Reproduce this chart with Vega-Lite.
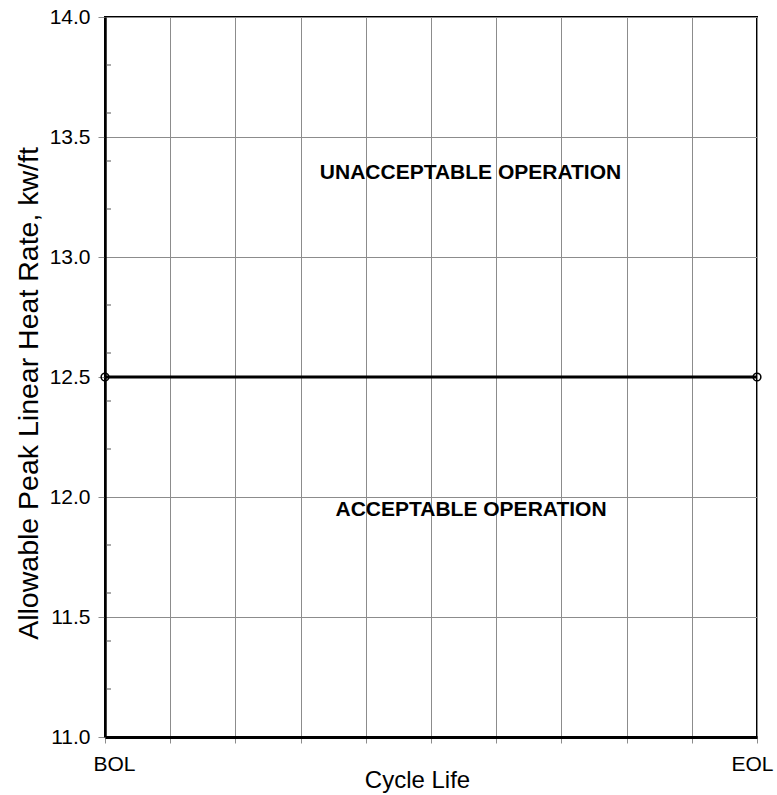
{
  "$schema": "https://vega.github.io/schema/vega-lite/v6.json",
  "width": 652,
  "height": 720,
  "autosize": "none",
  "padding": {"left": 105, "top": 17, "right": 20, "bottom": 58},
  "background": "white",
  "config": {
    "view": {"stroke": "black", "strokeWidth": 2},
    "font": "Liberation Sans",
    "axis": {
      "labelFont": "Liberation Sans",
      "titleFont": "Liberation Sans",
      "labelColor": "black",
      "titleColor": "black",
      "titleFontWeight": "normal",
      "gridColor": "#8c8c8c",
      "gridOpacity": 1,
      "gridWidth": 1,
      "tickColor": "#8c8c8c",
      "tickWidth": 1,
      "domainColor": "black"
    }
  },
  "layer": [
    {
      "data": {"values": [{"cycle": 0, "rate": 12.5}, {"cycle": 10, "rate": 12.5}]},
      "mark": {
        "type": "line",
        "color": "black",
        "strokeWidth": 3,
        "point": {"filled": false, "stroke": "black", "strokeWidth": 1.5, "size": 60}
      },
      "encoding": {
        "x": {
          "field": "cycle",
          "type": "quantitative",
          "scale": {"domain": [0, 10], "nice": false, "zero": false},
          "axis": {
            "values": [0, 1, 2, 3, 4, 5, 6, 7, 8, 9, 10],
            "labelExpr": "datum.value == 0 ? 'BOL' : (datum.value == 10 ? 'EOL' : '')",
            "labelFontSize": 21,
            "labelFlush": false,
            "labelOffset": {"expr": "datum.value == 0 ? 9 : -5"},
            "labelPadding": 10,
            "labelBaseline": "top",
            "tickSize": 6,
            "domainWidth": 3,
            "grid": true,
            "title": "Cycle Life",
            "titleFontSize": 24,
            "titleBaseline": "alphabetic",
            "titleX": 312,
            "titleY": 50
          }
        },
        "y": {
          "field": "rate",
          "type": "quantitative",
          "scale": {"domain": [11, 14], "nice": false, "zero": false},
          "axis": {
            "orient": "left",
            "values": [11, 11.5, 12, 12.5, 13, 13.5, 14],
            "format": ".1f",
            "labelFontSize": 21,
            "labelPadding": 8,
            "tickSize": 7,
            "domainWidth": 2.5,
            "grid": true,
            "title": "Allowable Peak Linear Heat Rate, kw/ft",
            "titleFontSize": 28.5,
            "titleY": 376,
            "titleX": -62
          }
        }
      }
    },
    {
      "data": {
        "values": [
          {"cycle": 0, "rate": 11.2}, {"cycle": 0, "rate": 11.4}, {"cycle": 0, "rate": 11.6}, {"cycle": 0, "rate": 11.8},
          {"cycle": 0, "rate": 12.2}, {"cycle": 0, "rate": 12.4}, {"cycle": 0, "rate": 12.6}, {"cycle": 0, "rate": 12.8},
          {"cycle": 0, "rate": 13.2}, {"cycle": 0, "rate": 13.4}, {"cycle": 0, "rate": 13.6}, {"cycle": 0, "rate": 13.8}
        ]
      },
      "mark": {"type": "tick", "orient": "horizontal", "size": 5, "thickness": 1, "xOffset": 3.5, "color": "#555555", "opacity": 1},
      "encoding": {
        "x": {"field": "cycle", "type": "quantitative"},
        "y": {"field": "rate", "type": "quantitative"}
      }
    },
    {
      "data": {
        "values": [
          {"cycle": 5.606, "rate": 13.348, "label": "UNACCEPTABLE OPERATION"},
          {"cycle": 5.614, "rate": 11.946, "label": "ACCEPTABLE OPERATION"}
        ]
      },
      "mark": {
        "type": "text",
        "font": "Liberation Sans",
        "fontWeight": "bold",
        "fontSize": 21,
        "align": "center",
        "baseline": "middle",
        "color": "black"
      },
      "encoding": {
        "x": {"field": "cycle", "type": "quantitative"},
        "y": {"field": "rate", "type": "quantitative"},
        "text": {"field": "label"}
      }
    }
  ]
}
